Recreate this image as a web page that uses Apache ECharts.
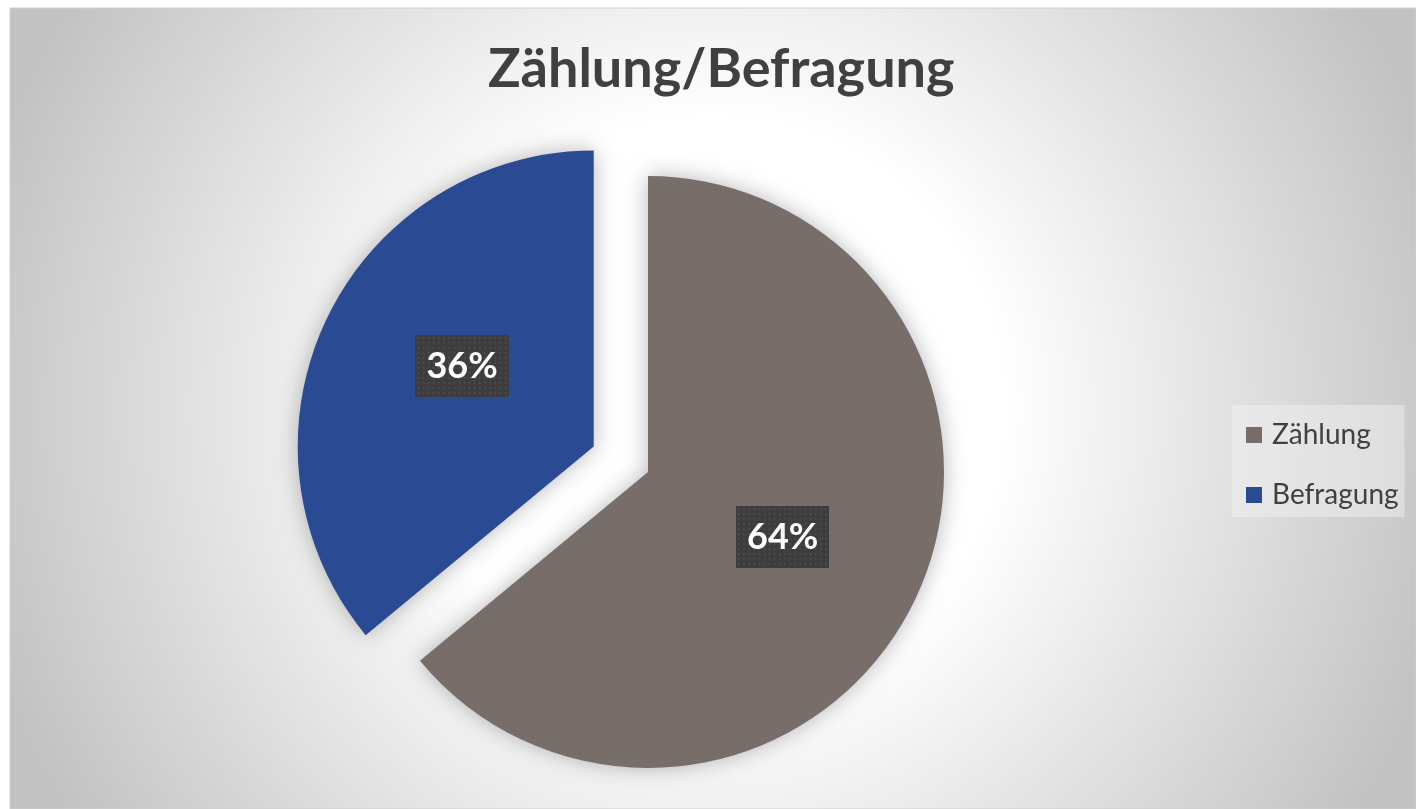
<!DOCTYPE html>
<html>
<head>
<meta charset="utf-8">
<script src="https://cdn.jsdelivr.net/npm/echarts@6/dist/echarts.min.js"></script>
<style>
html,body{margin:0;padding:0;background:#ffffff;}
#chart{width:1416px;height:809px;}
</style>
</head>
<body>
<div id="chart"></div>
<script>
const titleText = 'Zählung/Befragung';
const categories = ['Zählung', 'Befragung'];
const values = [64, 36];
const colors = ['#776E69', '#2A4B94'];
const explodedCategory = 'Befragung';

function dotPattern(w, h) {
  const c = document.createElement('canvas');
  c.width = w; c.height = h;
  const ctx = c.getContext('2d');
  ctx.fillStyle = '#3d3d3d';
  ctx.fillRect(0, 0, w, h);
  ctx.fillStyle = '#575757';
  for (let y = 2; y < h; y += 5) {
    for (let x = 2; x < w; x += 5) {
      ctx.fillRect(x, y, 1.5, 1.5);
    }
  }
  return c;
}
const pat = dotPattern(91, 62);

const chart = echarts.init(document.getElementById('chart'), null, {renderer: 'canvas'});
const option = {
  animation: false,
  graphic: [{
    type: 'rect',
    z: -10,
    silent: true,
    shape: {x: 10, y: 8, width: 1406, height: 801},
    style: {
      fill: new echarts.graphic.RadialGradient(0.5, 0.5, 0.95, [
        {offset: 0, color: '#ffffff'},
        {offset: 0.38, color: '#ffffff'},
        {offset: 1, color: '#c2c2c2'}
      ]),
      stroke: '#cfcfcf',
      lineWidth: 1
    }
  }],
  title: {
    text: titleText,
    left: 483,
    top: 38,
    textStyle: {
      fontFamily: 'Lato',
      fontWeight: 'bold',
      fontSize: 54,
      color: '#404040'
    }
  },
  legend: {
    orient: 'vertical',
    left: 1232,
    top: 405,
    padding: [16, 6, 8, 14],
    backgroundColor: 'rgba(245,245,245,0.45)',
    itemWidth: 16,
    itemHeight: 16,
    itemGap: 32,
    icon: 'rect',
    selectedMode: false,
    textStyle: {
      fontFamily: 'Lato',
      fontSize: 28,
      lineHeight: 28,
      color: '#404040',
      padding: [0, 0, 0, 5]
    },
    data: categories
  },
  series: [{
    type: 'pie',
    center: [648, 472],
    radius: 296,
    startAngle: 90,
    clockwise: true,
    selectedMode: 'single',
    selectedOffset: 60,
    avoidLabelOverlap: false,
    emphasis: {disabled: true},
    itemStyle: {
      shadowBlur: 22,
      shadowColor: 'rgba(0,0,0,0.28)'
    },
    label: {
      show: true,
      position: 'inside',
      formatter: '{d}%',
      fontFamily: 'Lato',
      fontWeight: 'bold',
      fontSize: 36,
      lineHeight: 38,
      color: '#ffffff',
      padding: [12, 11],
      backgroundColor: {image: pat},
      shadowBlur: 6,
      shadowOffsetX: 3,
      shadowOffsetY: 3,
      shadowColor: 'rgba(0,0,0,0.45)'
    },
    labelLayout: function (p) {
      return categories[p.dataIndex] === explodedCategory ? {dx: 5, dy: -16} : {dx: -2, dy: 1};
    },
    labelLine: {show: false},
    data: categories.map((name, i) => ({
      name: name,
      value: values[i],
      selected: name === explodedCategory,
      itemStyle: {color: colors[i]},
      select: {itemStyle: {color: colors[i]}}
    }))
  }]
};
chart.setOption(option);
</script>
</body>
</html>
